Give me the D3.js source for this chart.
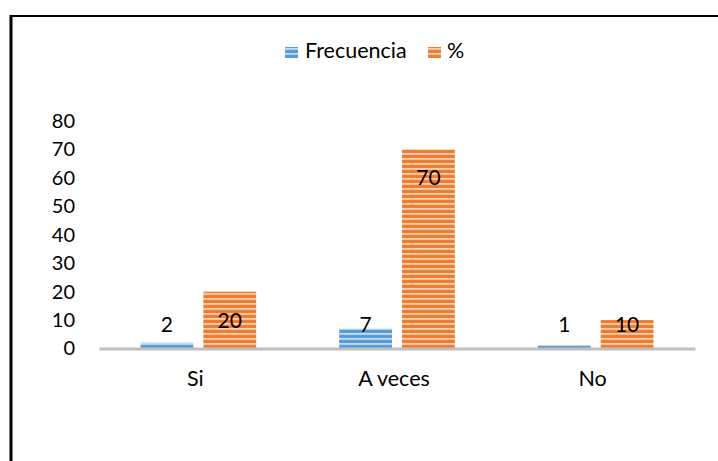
<!DOCTYPE html>
<html>
<head>
<meta charset="utf-8">
<script src="https://cdn.jsdelivr.net/npm/d3@7"></script>
<style>
  html, body { margin: 0; padding: 0; background: #fff; }
  svg { display: block; }
  text { font-family: Lato, "Open Sans", sans-serif; fill: #000; }
</style>
</head>
<body>
<svg id="chart" width="718" height="461"></svg>
<script>
// Survey answers and their counts / percentages
const categories = ["Si", "A veces", "No"];
const seriesNames = ["Frecuencia", "%"];
const frecuencia = [2, 7, 1];
const porcentaje = [20, 70, 10];
const yTicks = [0, 10, 20, 30, 40, 50, 60, 70, 80];

const seriesValues = [frecuencia, porcentaje];
const colors = ["#5B9BD5", "#ED7D31"];
const stripeColors = ["#C5DCF0", "#F9CFB2"];

const W = 718, H = 461;
const svg = d3.select("#chart");

// Horizontal-stripe fills for each series
const defs = svg.append("defs");
seriesNames.forEach((s, i) => {
  const p = defs.append("pattern")
    .attr("id", "stripe" + i)
    .attr("patternUnits", "userSpaceOnUse")
    .attr("width", 8).attr("height", 5);
  p.append("rect").attr("width", 8).attr("height", 5).attr("fill", colors[i]);
  p.append("rect").attr("y", 3).attr("width", 8).attr("height", 1.8).attr("fill", stripeColors[i]);
});

// Frame lines (top and left)
svg.append("line").attr("x1", 10).attr("x2", W).attr("y1", 16).attr("y2", 16)
  .attr("stroke", "#000").attr("stroke-width", 2);
svg.append("line").attr("x1", 11).attr("x2", 11).attr("y1", 15).attr("y2", H)
  .attr("stroke", "#000").attr("stroke-width", 3);

const x0 = d3.scaleBand().domain(categories).range([99, 695]).padding(0);
const x1 = d3.scaleBand().domain(seriesNames).range([0, x0.bandwidth()])
  .paddingInner(0.16).paddingOuter(0.66);
const y = d3.scaleLinear().domain([0, 80]).range([348.5, 121]);

// Y axis labels (no axis line, no ticks)
const yAxis = svg.append("g").attr("transform", "translate(75,0)")
  .call(d3.axisLeft(y).tickValues(yTicks).tickSize(0).tickPadding(0));
yAxis.select(".domain").remove();
yAxis.selectAll("text").attr("font-size", 20).attr("font-family", "Lato, sans-serif").attr("fill", "#000");

// Bars
const groups = svg.append("g").selectAll("g")
  .data(categories)
  .join("g")
  .attr("transform", d => `translate(${x0(d)},0)`);

groups.selectAll("rect")
  .data((c, ci) => seriesNames.map((s, si) => ({ s, si, v: seriesValues[si][ci] })))
  .join("rect")
  .attr("x", d => x1(d.s))
  .attr("width", x1.bandwidth())
  .attr("y", d => y(d.v))
  .attr("height", d => y(0) - y(d.v))
  .attr("fill", d => `url(#stripe${d.si})`);

// Category axis
const xAxis = svg.append("g").attr("transform", `translate(0,${y(0)})`)
  .call(d3.axisBottom(x0).tickSize(0).tickPadding(22));
xAxis.select(".domain").attr("stroke", "#BFBFBF").attr("stroke-width", 3);
xAxis.selectAll("text").attr("font-size", 21.5).attr("font-family", "Lato, sans-serif")
  .attr("fill", "#000").attr("dx", -3);

// Value labels
const labelFloor = y(0) - 16.5;
groups.selectAll("text.val")
  .data((c, ci) => seriesNames.map((s, si) => ({ s, si, v: seriesValues[si][ci] })))
  .join("text")
  .attr("class", "val")
  .attr("x", d => x1(d.s) + x1.bandwidth() / 2)
  .attr("y", d => d.si === 0 ? labelFloor : Math.min(y(d.v) + 36, labelFloor))
  .attr("text-anchor", "middle")
  .attr("font-size", 21)
  .text(d => d.v);

// Legend
const legendItems = [
  { name: seriesNames[0], sx: 285, tx: 305 },
  { name: seriesNames[1], sx: 428, tx: 447 }
];
const legend = svg.append("g");
legendItems.forEach((it, i) => {
  legend.append("rect").attr("x", it.sx).attr("y", 47).attr("width", 13).attr("height", 11)
    .attr("fill", `url(#stripe${i})`);
  legend.append("text").attr("x", it.tx).attr("y", 58).attr("font-size", 21.5).text(it.name);
});
</script>
</body>
</html>
